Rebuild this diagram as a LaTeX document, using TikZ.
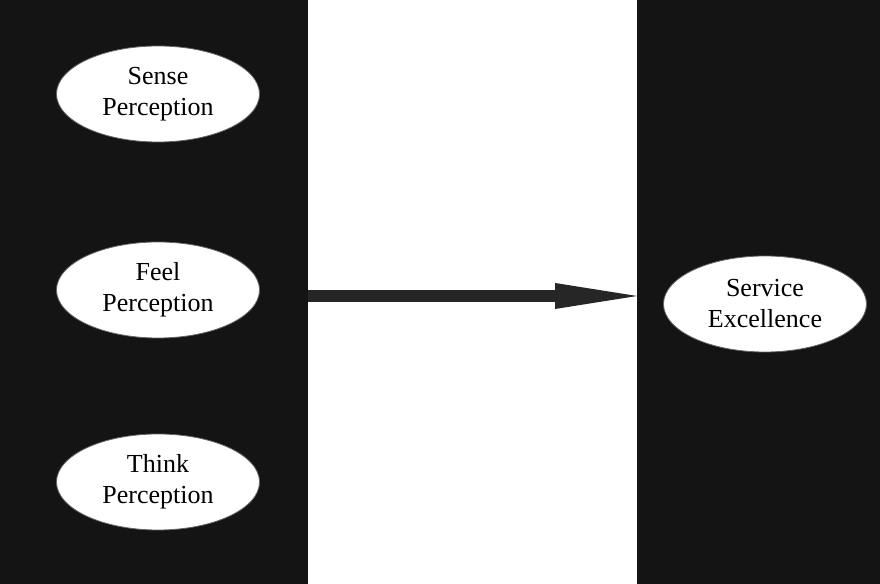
\documentclass[tikz,border=0pt]{standalone}
\usepackage{fontspec}
\setmainfont{Liberation Serif}
\usetikzlibrary{arrows.meta,positioning,shapes.geometric}

\begin{document}
\begin{tikzpicture}[>={Triangle[length=48.5pt,width=11pt]},
    panel/.style={draw=none,fill=black!92,minimum height=292pt,inner sep=0pt,outer sep=0pt},
    idea/.style={ellipse,fill=white,draw=black!60,align=center,minimum width=101.5pt,minimum height=48pt,inner sep=0pt,
      font=\fontsize{13}{15.5}\selectfont}]
    \useasboundingbox (0,0) rectangle (440pt,292pt);
    \node[panel,minimum width=154pt] (lpanel) at (77pt,146pt) {};
    \node[panel,minimum width=121.5pt] (rpanel) at (379.25pt,146pt) {};
    \node[idea] (sense) at (79pt,245pt) {Sense\\Perception};
    \node[idea] (feel) at (79pt,147pt) {Feel\\Perception};
    \node[idea] (think) at (79pt,51pt) {Think\\Perception};
    \node[idea] (serv) at (382.5pt,140pt) {Service\\Excellence};
    \draw[->,line width=6pt,draw=black!85,shorten >=-7.5pt] ([yshift=-2pt]lpanel.east)--([yshift=-2pt]rpanel.west);
  \end{tikzpicture}
\end{document}
